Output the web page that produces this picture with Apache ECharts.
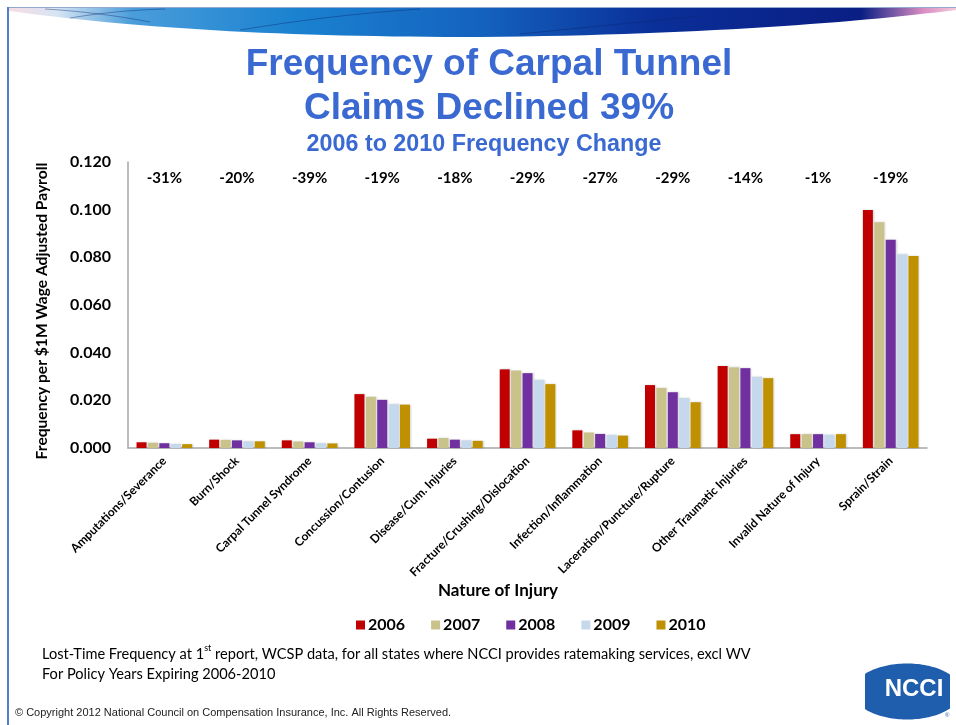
<!DOCTYPE html>
<html>
<head>
<meta charset="utf-8">
<title>Frequency of Carpal Tunnel Claims</title>
<script src="https://cdn.jsdelivr.net/npm/echarts@6/dist/echarts.min.js"></script>
<style>
  html, body { margin: 0; padding: 0; background: #ffffff; }
  #chart { width: 956px; height: 725px; }
</style>
</head>
<body>
<div id="chart"></div>
<script>
// Nature of injury categories
var categories = [
  'Amputations/Severance', 'Burn/Shock', 'Carpal Tunnel Syndrome', 'Concussion/Contusion',
  'Disease/Cum. Injuries', 'Fracture/Crushing/Dislocation', 'Infection/Inflammation',
  'Laceration/Puncture/Rupture', 'Other Traumatic Injuries', 'Invalid Nature of Injury', 'Sprain/Strain'
];
// 2006 to 2010 change per category
var pctChange = ['-31%', '-20%', '-39%', '-19%', '-18%', '-29%', '-27%', '-29%', '-14%', '-1%', '-19%'];
var years = ['2006', '2007', '2008', '2009', '2010'];
// Frequency per $1M wage adjusted payroll
var freq2006 = [0.0024, 0.0035, 0.0032, 0.0226, 0.0039, 0.0330, 0.0074, 0.0264, 0.0344, 0.0058, 0.0999];
var freq2007 = [0.0022, 0.0034, 0.0027, 0.0215, 0.0042, 0.0325, 0.0065, 0.0252, 0.0338, 0.0058, 0.0947];
var freq2008 = [0.0020, 0.0032, 0.0024, 0.0202, 0.0035, 0.0314, 0.0059, 0.0234, 0.0335, 0.0058, 0.0874];
var freq2009 = [0.0017, 0.0028, 0.0020, 0.0184, 0.0032, 0.0286, 0.0055, 0.0210, 0.0299, 0.0056, 0.0812];
var freq2010 = [0.0016, 0.0028, 0.0019, 0.0182, 0.0030, 0.0268, 0.0052, 0.0192, 0.0293, 0.0058, 0.0806];
var yTicks = { min: 0, max: 0.12, interval: 0.02 };

var seriesValues = [freq2006, freq2007, freq2008, freq2009, freq2010];
var yearColors = ['#C00000', '#C9C28A', '#7030A0', '#C6D9EC', '#BF9000'];

var FONT = 'Lato, "Open Sans", sans-serif';
var TITLE_FONT = '"Liberation Sans", Arial, sans-serif';
var BLUE = '#3A69D2';

// sample a cubic bezier into polygon points (header decoration)
function bezierPoints(p0, p1, p2, p3, n) {
  var pts = [];
  for (var i = 0; i <= n; i++) {
    var t = i / n, u = 1 - t;
    pts.push([
      u * u * u * p0[0] + 3 * u * u * t * p1[0] + 3 * u * t * t * p2[0] + t * t * t * p3[0],
      u * u * u * p0[1] + 3 * u * u * t * p1[1] + 3 * u * t * t * p2[1] + t * t * t * p3[1]
    ]);
  }
  return pts;
}
var swooshPts = [[9, 8], [956, 8]]
  .concat(bezierPoints([956, 10], [860, 22], [700, 35], [480, 37], 30))
  .concat(bezierPoints([480, 37], [300, 37], [150, 30], [9, 11], 30));

// logo outline: ellipse clipped at left and right
function logoPts(cx, cy, rx, ry, xl, xr) {
  var pts = [], i, x, dy;
  for (i = 0; i <= 40; i++) {
    x = xl + (xr - xl) * i / 40;
    dy = ry * Math.sqrt(Math.max(0, 1 - Math.pow((x - cx) / rx, 2)));
    pts.push([x, cy - dy]);
  }
  for (i = 40; i >= 0; i--) {
    x = xl + (xr - xl) * i / 40;
    dy = ry * Math.sqrt(Math.max(0, 1 - Math.pow((x - cx) / rx, 2)));
    pts.push([x, cy + dy]);
  }
  return pts;
}

var chart = echarts.init(document.getElementById('chart'), null, { renderer: 'canvas' });

var barSeries = years.map(function (y, i) {
  return {
    name: y,
    type: 'bar',
    xAxisIndex: 0,
    yAxisIndex: 0,
    data: seriesValues[i],
    barWidth: 10,
    barGap: '14%',
    itemStyle: {
      color: yearColors[i],
      shadowColor: 'rgba(0,0,0,0.18)',
      shadowBlur: 2,
      shadowOffsetX: 1,
      shadowOffsetY: 0
    },
    emphasis: { disabled: true }
  };
});

function curve(x1, y1, c1x, c1y, c2x, c2y, x2, y2) {
  return {
    type: 'bezierCurve', z: 101,
    shape: { x1: x1, y1: y1, cpx1: c1x, cpy1: c1y, cpx2: c2x, cpy2: c2y, x2: x2, y2: y2 },
    style: { fill: null, stroke: 'rgba(10,35,110,0.4)', lineWidth: 1 }
  };
}

var option = {
  backgroundColor: '#ffffff',
  animation: false,
  title: [
    {
      text: 'Frequency of Carpal Tunnel\nClaims Declined 39%',
      left: 484, top: 38, textAlign: 'center',
      textStyle: { fontFamily: TITLE_FONT, fontWeight: 'bold', fontSize: 37, color: BLUE, lineHeight: 44 }
    },
    {
      text: '2006 to 2010 Frequency Change',
      left: 479, top: 128, textAlign: 'center',
      textStyle: { fontFamily: TITLE_FONT, fontWeight: 'bold', fontSize: 23.3, color: BLUE }
    }
  ],
  legend: {
    data: years,
    left: 351, top: 612,
    itemWidth: 9, itemHeight: 9, itemGap: 26,
    icon: 'rect',
    textStyle: { fontFamily: FONT, fontWeight: 'bold', fontSize: 16, color: '#000', padding: [0, 0, 0, -2] }
  },
  grid: { left: 128, right: 29, top: 162, bottom: 277, containLabel: false },
  xAxis: [
    {
      type: 'category',
      data: categories,
      position: 'bottom',
      axisLine: { show: true, lineStyle: { color: '#A6A6A6', width: 1.5 } },
      axisTick: { show: false },
      axisLabel: {
        interval: 0, rotate: 45, margin: 11,
        fontFamily: FONT, fontSize: 12, fontWeight: 'bold', color: '#000'
      },
      name: 'Nature of Injury',
      nameLocation: 'middle',
      nameGap: 134,
      nameTextStyle: { fontFamily: FONT, fontWeight: 'bold', fontSize: 17, color: '#000', padding: [0, 0, 0, -59] }
    },
    {
      type: 'category',
      data: pctChange,
      position: 'top',
      axisLine: { show: false },
      axisTick: { show: false },
      axisLabel: {
        inside: true, interval: 0, margin: 9,
        fontFamily: FONT, fontSize: 15, fontWeight: 'bold', color: '#000'
      }
    }
  ],
  yAxis: {
    type: 'value',
    min: yTicks.min, max: yTicks.max, interval: yTicks.interval,
    axisLine: { show: true, lineStyle: { color: '#A6A6A6', width: 1.5 } },
    axisTick: { show: false },
    splitLine: { show: false },
    axisLabel: {
      margin: 17,
      fontFamily: FONT, fontSize: 16, fontWeight: 'bold', color: '#000',
      formatter: function (v) { return v.toFixed(3); }
    },
    name: 'Frequency per $1M Wage Adjusted Payroll',
    nameLocation: 'middle',
    nameGap: 78,
    nameTextStyle: { fontFamily: FONT, fontWeight: 'bold', fontSize: 15.6, color: '#000', padding: [0, 12, 0, 0] }
  },
  series: barSeries,
  graphic: [
    // slide header swoosh
    {
      type: 'polygon', z: 100,
      shape: { points: swooshPts },
      style: {
        fill: {
          type: 'linear', x: 0, y: 0, x2: 1, y2: 0,
          colorStops: [
            { offset: 0, color: '#F8DCE6' },
            { offset: 0.05, color: '#D6E5F3' },
            { offset: 0.13, color: '#4A9DDA' },
            { offset: 0.3, color: '#1B82D0' },
            { offset: 0.5, color: '#1462BE' },
            { offset: 0.68, color: '#0A2F98' },
            { offset: 0.9, color: '#0A1E84' },
            { offset: 0.965, color: '#D98CC2' },
            { offset: 1, color: '#F6CADC' }
          ]
        }
      }
    },
    curve(45, 9, 80, 11, 120, 16, 150, 22),
    curve(70, 18, 100, 13, 130, 10, 165, 9),
    curve(240, 30, 300, 20, 360, 13, 420, 9),
    curve(520, 34, 580, 28, 640, 22, 700, 16),
    // slide frame
    { type: 'line', z: 102, shape: { x1: 8, y1: 7.5, x2: 956, y2: 7.5 }, style: { stroke: '#8FA9CF', lineWidth: 1 } },
    { type: 'line', z: 102, shape: { x1: 8, y1: 7, x2: 8, y2: 725 }, style: { stroke: '#4F7FC4', lineWidth: 2 } },
    // source note
    {
      type: 'text', left: 42, top: 644,
      style: {
        text: '{a|Lost-Time Frequency at 1}{s|st}{a| report, WCSP data, for all states where NCCI provides ratemaking services, excl WV}\n{a|For Policy Years Expiring 2006-2010}',
        rich: {
          a: { fontFamily: FONT, fontSize: 14.6, fill: '#000', lineHeight: 20 },
          s: { fontFamily: FONT, fontSize: 9, fill: '#000', verticalAlign: 'top', lineHeight: 20, padding: [0, 0, 8, 0] }
        }
      }
    },
    {
      type: 'text', left: 15, top: 707,
      style: {
        text: '\u00A9 Copyright 2012 National Council on Compensation Insurance, Inc. All Rights Reserved.',
        fontFamily: TITLE_FONT, fontSize: 11, fill: '#222'
      }
    },
    // NCCI logo
    {
      type: 'polygon',
      shape: { points: logoPts(907, 691.5, 54, 28, 865, 950) },
      style: { fill: '#1F5EAD' }
    },
    {
      type: 'text', x: 914, y: 689,
      style: {
        text: 'NCCI', textAlign: 'center', textVerticalAlign: 'middle',
        fontFamily: TITLE_FONT, fontWeight: 'bold', fontSize: 24, fill: '#ffffff'
      }
    },
    {
      type: 'text', left: 945, top: 712,
      style: { text: '\u00AE', fontFamily: TITLE_FONT, fontSize: 6, fill: '#1F5EAD' }
    }
  ]
};

chart.setOption(option);
</script>
</body>
</html>
